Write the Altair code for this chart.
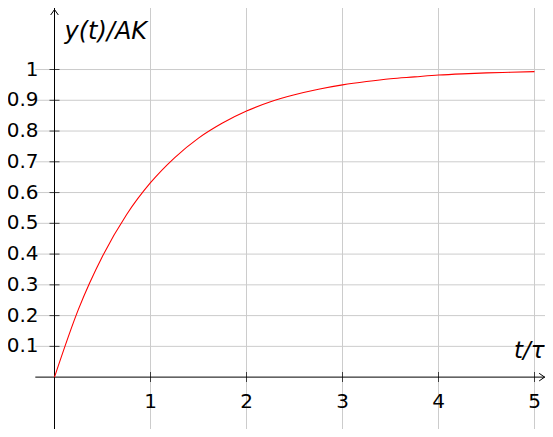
import altair as alt
import pandas as pd

# values
t_vals = [0, 0.25, 0.5, 0.75, 1.0, 1.25, 1.5, 1.75, 2.0, 2.25, 2.5,
          2.75, 3.0, 3.25, 3.5, 3.75, 4.0, 4.25, 4.5, 4.75, 5.0]
y_vals = [0.0, 0.221, 0.393, 0.528, 0.632, 0.713, 0.777, 0.826, 0.865, 0.895, 0.918,
          0.936, 0.950, 0.961, 0.970, 0.976, 0.982, 0.986, 0.989, 0.991, 0.993]
x_ticks = [1, 2, 3, 4, 5]
x_tick_labels = ["1", "2", "3", "4", "5"]
y_ticks = [0.1, 0.2, 0.3, 0.4, 0.5, 0.6, 0.7, 0.8, 0.9, 1.0]
y_tick_labels = ["0.1", "0.2", "0.3", "0.4", "0.5", "0.6", "0.7", "0.8", "0.9", "1"]
y_title = "y(t)/AK"
x_title = "t/τ"

PX_X = 96.0    # pixels per x unit
PX_Y = 307.6   # pixels per y unit
W = 509.7
H = 421
X_DOM = [-0.2, -0.2 + W / PX_X]
Y_DOM = [1.2 - H / PX_Y, 1.2]
xs = alt.Scale(domain=X_DOM, nice=False, zero=False)
ys = alt.Scale(domain=Y_DOM, nice=False, zero=False)

FONT = "DejaVu Sans"
GRID = "#cccccc"

curve_df = pd.DataFrame({"t": t_vals, "y": y_vals})
xt_df = pd.DataFrame({"x": x_ticks, "label": x_tick_labels})
xt_df["zero"] = 0.0
yt_df = pd.DataFrame({"y": y_ticks, "label": y_tick_labels})
yt_df["zero"] = 0.0
origin_df = pd.DataFrame({"x": [0.0], "y": [0.0]})
ytitle_df = pd.DataFrame({"x": [0.0], "y": [1.0], "label": [y_title]})
xtitle_df = pd.DataFrame({"x": [5.0], "y": [0.0], "label": [x_title]})
xarrow_df = pd.DataFrame({"x": [X_DOM[1] - 0.004], "y": [0.0]})
yarrow_df = pd.DataFrame({"x": [0.0], "y": [Y_DOM[1] - 0.005]})


def X(f):
    return alt.X(f, type="quantitative", scale=xs, axis=None)


def Y(f):
    return alt.Y(f, type="quantitative", scale=ys, axis=None)


vgrid = alt.Chart(xt_df).mark_rule(color=GRID, strokeWidth=1).encode(x=X("x"))
hgrid = alt.Chart(yt_df).mark_rule(color=GRID, strokeWidth=1).encode(y=Y("y"))

xaxis = alt.Chart(origin_df).mark_rule(color="black", strokeWidth=1).encode(y=Y("y"))
yaxis = alt.Chart(origin_df).mark_rule(color="black", strokeWidth=1).encode(x=X("x"))

xticks = alt.Chart(xt_df).mark_tick(orient="vertical", size=10, thickness=1, color="black").encode(
    x=X("x"), y=Y("zero"))
yticks = alt.Chart(yt_df).mark_tick(orient="horizontal", size=10, thickness=1, color="black").encode(
    y=Y("y"), x=X("zero"))

curve = alt.Chart(curve_df).mark_line(color="#ff0000", strokeWidth=1.1, interpolate="monotone").encode(
    x=X("t"), y=Y("y"))

xlabels = alt.Chart(xt_df).mark_text(align="center", baseline="alphabetic", dy=31,
                                     font=FONT, fontSize=20, color="black").encode(
    x=X("x"), y=Y("zero"), text="label:N")
ylabels = alt.Chart(yt_df).mark_text(align="right", baseline="middle", dx=-16,
                                     font=FONT, fontSize=20, color="black").encode(
    y=Y("y"), x=X("zero"), text="label:N")

ytitle = alt.Chart(ytitle_df).mark_text(align="left", baseline="alphabetic", dx=10, dy=-31,
                                        font=FONT, fontSize=24, fontStyle="italic", color="black").encode(
    x=X("x"), y=Y("y"), text="label:N")
xtitle = alt.Chart(xtitle_df).mark_text(align="right", baseline="alphabetic", dx=10, dy=-19,
                                        font=FONT, fontSize=23, fontStyle="italic", color="black").encode(
    x=X("x"), y=Y("y"), text="label:N")

xarrow = alt.Chart(xarrow_df).mark_point(shape="M -1 -0.7 L 0 0 L -1 0.7", size=120, filled=False,
                                         color="black", strokeWidth=1, opacity=1, clip=False).encode(
    x=X("x"), y=Y("y"))
yarrow = alt.Chart(yarrow_df).mark_point(shape="M -0.7 1 L 0 0 L 0.7 1", size=120, filled=False,
                                         color="black", strokeWidth=1, opacity=1, clip=False).encode(
    x=X("x"), y=Y("y"))

chart = alt.layer(
    vgrid, hgrid, xaxis, yaxis, xticks, yticks, curve, xlabels, ylabels, ytitle, xtitle, xarrow, yarrow
).properties(
    width=W, height=H,
    autosize=alt.AutoSizeParams(type="none"),
    padding={"left": 27.3, "top": 0, "right": 0, "bottom": 0},
).configure_view(strokeWidth=0)

chart.save("out.html", embed_options={"renderer": "svg", "actions": False})
